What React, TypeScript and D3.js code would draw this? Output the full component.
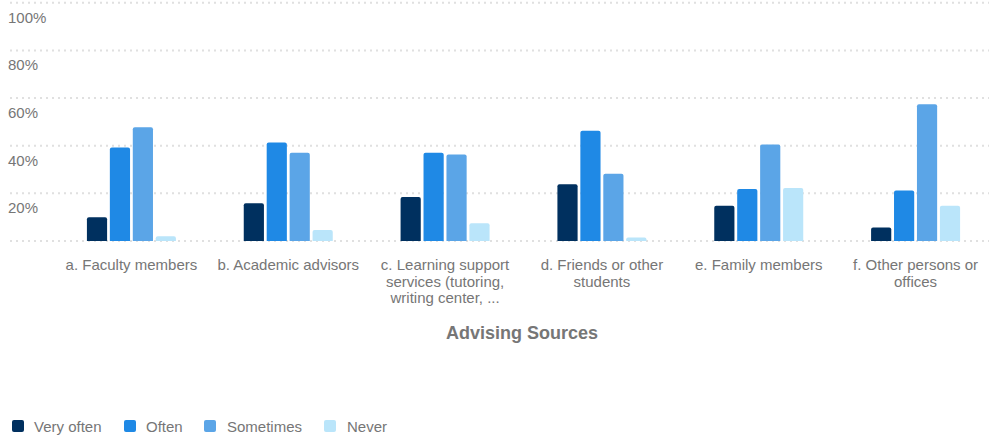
import React from "react";
import * as d3 from "d3";

const categories = [
  "a. Faculty members",
  "b. Academic advisors",
  "c. Learning support services (tutoring, writing center, ...",
  "d. Friends or other students",
  "e. Family members",
  "f. Other persons or offices",
];
const categoryLines = [
  ["a. Faculty members"],
  ["b. Academic advisors"],
  ["c. Learning support", "services (tutoring,", "writing center, ..."],
  ["d. Friends or other", "students"],
  ["e. Family members"],
  ["f. Other persons or", "offices"],
];
const seriesNames = ["Very often", "Often", "Sometimes", "Never"];
const seriesColors = ["#00305f", "#1f89e5", "#5ba5e7", "#bae5fa"];
const veryOften = [10.0, 15.9, 18.5, 23.8, 14.8, 5.7];
const often = [39.3, 41.4, 37.1, 46.3, 21.8, 21.2];
const sometimes = [47.8, 37.1, 36.3, 28.2, 40.5, 57.4];
const never = [2.0, 4.6, 7.4, 1.5, 22.2, 14.8];
const yTicks = [0, 20, 40, 60, 80, 100];
const axisTitle = "Advising Sources";

const W = 989;
const H = 440;
const FONT = "'Liberation Sans', Arial, sans-serif";
const TEXT = "#767676";

export default function App() {
  const series = [veryOften, often, sometimes, never];
  const y = d3.scaleLinear().domain([0, 100]).range([241, 2.8]);
  const x0 = d3.scaleBand<number>().domain(d3.range(categories.length)).range([53, 994]).padding(0);
  const groupW = 89;
  const x1 = d3
    .scaleBand<number>()
    .domain(d3.range(seriesNames.length))
    .range([0, groupW])
    .paddingInner(0.12)
    .paddingOuter(0);

  const legendSquareX = [12, 124, 204, 324];
  const legendTextX = [34, 146, 227, 347];

  return (
    <svg width={W} height={H} style={{ position: "absolute", left: 0, top: 0 }} fontFamily={FONT}>
      <rect width={W} height={H} fill="#fff" />
      {yTicks.map((t) => (
        <g key={t}>
          <line
            x1={10}
            x2={W}
            y1={y(t)}
            y2={y(t)}
            stroke="#e0e0e0"
            strokeWidth={2}
            strokeDasharray="2 4"
          />
          {t > 0 && (
            <text x={8} y={y(t) + 20} fontSize={15} fill={TEXT}>
              {t}%
            </text>
          )}
        </g>
      ))}
      {categories.map((c, i) => {
        const cx = x0(i)! + x0.bandwidth() / 2;
        const gx = cx - groupW / 2;
        return (
          <g key={c}>
            {series.map((s, j) => {
              const top = y(s[i]);
              const h = y(0) - top;
              const bx = gx + x1(j)!;
              const bw = x1.bandwidth();
              const r = Math.min(2, h / 2);
              const path = `M${bx},${y(0)} V${top + r} Q${bx},${top} ${bx + r},${top} H${bx + bw - r} Q${bx + bw},${top} ${bx + bw},${top + r} V${y(0)} Z`;
              return <path key={j} d={path} fill={seriesColors[j]} />;
            })}
            <text x={cx} y={270} fontSize={15} fill={TEXT} textAnchor="middle">
              {categoryLines[i].map((l, k) => (
                <tspan key={k} x={cx} dy={k === 0 ? 0 : 16.5}>
                  {l}
                </tspan>
              ))}
            </text>
          </g>
        );
      })}
      <text x={522} y={339} fontSize={18} fontWeight="bold" fill={TEXT} textAnchor="middle">
        {axisTitle}
      </text>
      {seriesNames.map((n, j) => (
        <g key={n}>
          <rect x={legendSquareX[j]} y={420} width={12} height={12} rx={2} fill={seriesColors[j]} />
          <text x={legendTextX[j]} y={432} fontSize={15} fill={TEXT}>
            {n}
          </text>
        </g>
      ))}
    </svg>
  );
}
